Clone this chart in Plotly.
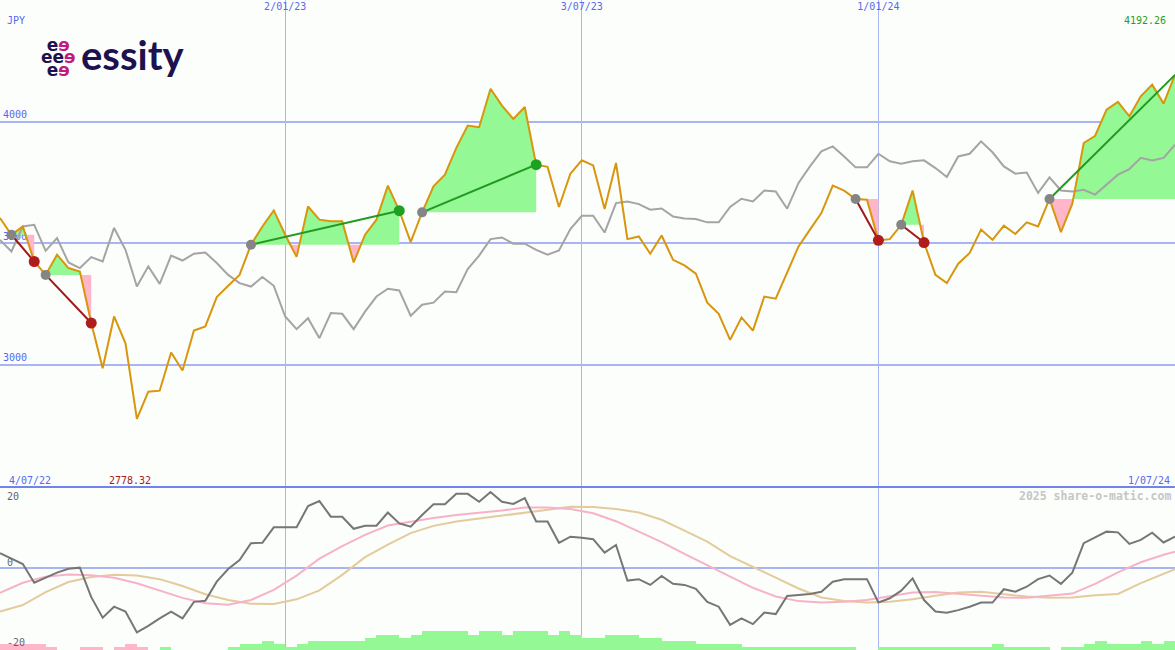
import numpy as np
import pandas as pd
import plotly.graph_objects as go

W, H = 1175, 650

# ---------------- data ----------------
start_date = "2022-07-04"
n_weeks = 104

price = [3604, 3535, 3569, 3425, 3370, 3453, 3398, 3384, 3172, 2986,
         3199, 3089, 2778.32, 2890, 2894, 3051, 2977, 3141, 3158, 3279,
         3325, 3370, 3494, 3569, 3635, 3535, 3444, 3651, 3597, 3590,
         3590, 3421, 3535, 3597, 3737, 3634, 3505, 3627, 3734, 3782,
         3892, 3984, 3977, 4135, 4066, 4011, 4060, 3823, 3814, 3649,
         3786, 3841, 3820, 3641, 3830, 3517, 3528, 3457, 3532, 3432,
         3409, 3375, 3256, 3210, 3103, 3195, 3141, 3281, 3272, 3377,
         3487, 3556, 3624, 3737, 3716, 3682, 3679, 3512, 3517, 3576,
         3717, 3503, 3370, 3336, 3416, 3460, 3556, 3514, 3572, 3538,
         3586, 3569, 3682, 3546, 3663, 3912, 3942, 4049, 4081, 4022,
         4104, 4152, 4074, 4192.26]

benchmark = [3514, 3466, 3569, 3576, 3469, 3521, 3421, 3398, 3443, 3425,
             3563, 3473, 3322, 3405, 3333, 3449, 3429, 3457, 3462, 3419,
             3370, 3336, 3322, 3361, 3325, 3199, 3147, 3192, 3110, 3213,
             3210, 3147, 3219, 3281, 3313, 3306, 3202, 3247, 3256, 3302,
             3299, 3394, 3449, 3517, 3524, 3498, 3498, 3473, 3453, 3470,
             3558, 3613, 3613, 3544, 3665, 3672, 3661, 3638, 3643, 3610,
             3602, 3600, 3586, 3586, 3649, 3683, 3672, 3717, 3713, 3642,
             3748, 3816, 3878, 3898, 3857, 3812, 3812, 3868, 3837, 3827,
             3837, 3841, 3809, 3772, 3857, 3868, 3919, 3874, 3816, 3786,
             3791, 3707, 3771, 3717, 3713, 3720, 3700, 3741, 3782, 3805,
             3851, 3840, 3851, 3905]

oscillator = [4.1, 2.6, 1.1, -4.1, -2.6, -1.3, -0.2, 0.1, -8.1, -13.8,
              -10.75, -12.1, -17.9, -16.1, -14.0, -12.1, -14.0, -9.4, -9.1, -3.8,
              -0.3, 2.2, 6.9, 7.0, 11.3, 11.3, 11.3, 17.2, 18.6, 14.25,
              14.25, 10.9, 11.75, 11.75, 15.4, 12.4, 11.5, 14.7, 17.7, 17.7,
              20.6, 20.6, 18.4, 21.1, 18.4, 17.8, 19.4, 12.9, 12.9, 7.0,
              8.7, 8.4, 8.0, 4.25, 6.4, -3.5, -3.1, -4.7, -2.2, -4.4,
              -4.7, -5.8, -9.4, -10.75, -15.8, -14.0, -15.6, -12.4, -12.8, -7.8,
              -7.5, -7.2, -6.6, -3.8, -3.1, -3.1, -3.1, -9.6, -8.4, -6.3,
              -2.9, -8.9, -12.1, -12.4, -11.7, -10.75, -9.6, -9.6, -5.9, -6.6,
              -5.2, -3.1, -2.1, -4.4, -1.3, 6.9, 8.4, 10.1, 9.9, 6.7,
              7.8, 9.8, 7.1, 8.7]

smooth_idx = list(range(0, 104, 2)) + [103]
signal_fast = [-6.9, -4.1, -2.4, -1.8, -2.0, -2.7, -4.25, -6.3, -8.3, -9.8,
               -10.2, -8.9, -6.1, -2.1, 2.6, 6.1, 9.2, 11.8, 12.9, 13.9,
               14.7, 15.3, 16.0, 16.8, 16.8, 16.4, 15.2, 13.0, 10.2, 7.2,
               3.9, 0.8, -2.2, -5.5, -7.9, -9.2, -9.6, -9.4, -8.9, -7.8,
               -6.8, -6.7, -7.2, -7.7, -8.2, -8.3, -7.75, -7.1, -4.4, -1.2,
               1.6, 3.7, 4.5]
signal_slow = [-12.1, -10.3, -6.7, -3.9, -2.5, -1.85, -2.1, -3.1, -5.0, -7.3,
               -8.9, -9.9, -10.0, -8.7, -6.2, -1.9, 3.0, 6.5, 9.7, 11.7,
               12.9, 13.7, 14.6, 15.4, 16.3, 17.0, 16.95, 16.4, 15.4, 13.4,
               10.4, 7.3, 3.3, 0.4, -2.7, -5.7, -8.2, -9.2, -9.6, -9.4,
               -8.7, -7.7, -6.8, -6.6, -7.2, -7.95, -8.3, -8.2, -7.6, -7.2,
               -4.2, -1.5, -0.3]

trend_hist = [-2, -2, -2, -2, -1, 0, 0, -1, -1, 0,
              -1, -2, -1, 0, 1, 0, 0, 0, 0, 0,
              1, 2, 2, 3, 2, 1, 2, 3, 3, 3,
              3, 3, 4, 5, 5, 4, 5, 6, 6, 6,
              6, 5, 6, 6, 5, 6, 6, 6, 5, 6,
              5, 4, 4, 5, 5, 5, 4, 4, 3, 3,
              3, 2, 2, 2, 2, 1, 1, 1, 1, 1,
              1, 1, 1, 1, 1, 0, 0, 1, 1, 1,
              1, 1, 1, 1, 1, 1, 1, 2, 1, 1,
              1, 1, 0, 1, 1, 2, 3, 2, 2, 2,
              3, 2, 3, 3]

# trades: (entry week index, exit week index)
trade_entries = [1, 4, 22, 37, 75, 79, 92]
trade_exits = [3, 8, 35, 47, 77, 81, 103]
open_trade = [False, False, False, False, False, False, True]

grid_dates = ["2022-12-26", "2023-06-26", "2023-12-25"]
grid_labels = ["2/01/23", "3/07/23", "1/01/24"]
first_label = "4/07/22"
last_label = "1/07/24"
currency = "JPY"

# ---------------- styles ----------------
BG = "#fcfefc"
GRID = "#a9b5f3"
BLUE_TXT = "#5868ee"
GREEN_FILL = "#94f894"
PINK_FILL = "#ffb6c9"
ORANGE = "#d8960c"
GRAY = "#a4a4a4"
GOOD = "#229a22"
BAD = "#a01818"
MONO = "DejaVu Sans Mono"

dates = pd.date_range(start_date, periods=n_weeks, freq="7D")
xnum = dates.values.astype("datetime64[ns]").astype("int64").astype(float)

fig = go.Figure()

# ---- trade fills ----
for e, x_ in zip(trade_entries, trade_exits):
    L = price[e]
    xs, ps = [], []
    for i in range(e, x_):
        xs.append(xnum[i]); ps.append(price[i])
        a, b = price[i] - L, price[i + 1] - L
        if a * b < 0:
            t = a / (a - b)
            xs.append(xnum[i] + t * (xnum[i + 1] - xnum[i])); ps.append(L)
    xs.append(xnum[x_]); ps.append(price[x_])
    xd = list(pd.to_datetime(np.array(xs).astype("int64")))
    up = [max(p, L) for p in ps]
    dn = [min(p, L) for p in ps]
    for ys, col in ((up, GREEN_FILL), (dn, PINK_FILL)):
        fig.add_trace(go.Scatter(
            x=xd + xd[::-1], y=ys + [L] * len(ys), fill="toself",
            fillcolor=col, line=dict(width=0), mode="lines",
            hoverinfo="skip", xaxis="x", yaxis="y"))

# ---- benchmark & price ----
fig.add_trace(go.Scatter(x=dates, y=benchmark, mode="lines",
                         line=dict(color=GRAY, width=2), xaxis="x", yaxis="y"))
fig.add_trace(go.Scatter(x=dates, y=price, mode="lines",
                         line=dict(color=ORANGE, width=2), xaxis="x", yaxis="y"))

# ---- trade lines & dots ----
for e, x_, op in zip(trade_entries, trade_exits, open_trade):
    col = GOOD if price[x_] > price[e] else BAD
    fig.add_trace(go.Scatter(x=[dates[e], dates[x_]], y=[price[e], price[x_]],
                             mode="lines", line=dict(color=col, width=2),
                             xaxis="x", yaxis="y"))
    fig.add_trace(go.Scatter(x=[dates[e]], y=[price[e]], mode="markers",
                             marker=dict(color="#858585", size=10),
                             xaxis="x", yaxis="y"))
    if not op:
        fig.add_trace(go.Scatter(x=[dates[x_]], y=[price[x_]], mode="markers",
                                 marker=dict(color=("#20a020" if col == GOOD else "#b01c1c"), size=11),
                                 xaxis="x", yaxis="y"))

# ---- lower panel ----
hist_cols = [GREEN_FILL if v > 0 else PINK_FILL for v in trend_hist]
fig.add_trace(go.Bar(x=dates, y=[abs(v) for v in trend_hist], marker=dict(color=hist_cols, line=dict(width=0)),
                     width=7 * 86400000, offset=0, xaxis="x2", yaxis="y3"))
sd = dates[smooth_idx]
fig.add_trace(go.Scatter(x=sd, y=signal_slow, mode="lines",
                         line=dict(color="#e3cb9c", width=2), xaxis="x2", yaxis="y2"))
fig.add_trace(go.Scatter(x=sd, y=signal_fast, mode="lines",
                         line=dict(color="#f8b2c8", width=2), xaxis="x2", yaxis="y2"))
fig.add_trace(go.Scatter(x=dates, y=oscillator, mode="lines",
                         line=dict(color="#767676", width=2), xaxis="x2", yaxis="y2"))

split = 163 / H
xr = [dates[0], dates[-1]]
tick_font = dict(family=MONO, size=10, color=BLUE_TXT)

fig.update_layout(
    width=W, height=H, margin=dict(l=0, r=0, t=0, b=0),
    paper_bgcolor=BG, plot_bgcolor=BG, showlegend=False, bargap=0,
    xaxis=dict(domain=[0, 1], anchor="y", range=xr, side="top",
               tickvals=pd.to_datetime(grid_dates), ticktext=grid_labels,
               ticklabelposition="inside", tickfont=tick_font, ticks="",
               showgrid=True, gridcolor=GRID, gridwidth=1, zeroline=False,
               showline=False, layer="below traces"),
    yaxis=dict(domain=[split, 1], anchor="x", range=[2498, 4500],
               tickvals=[3000, 3500, 4000], ticklabelposition="inside top",
               tickfont=tick_font, ticks="", showgrid=True, gridcolor=GRID,
               gridwidth=2, zeroline=False, showline=False, layer="below traces"),
    xaxis2=dict(domain=[0, 1], anchor="y2", range=xr, matches="x",
                tickvals=pd.to_datetime(grid_dates), showticklabels=False,
                ticks="", showgrid=True, gridcolor=GRID, gridwidth=1,
                zeroline=False, showline=False),
    yaxis2=dict(domain=[0, split], anchor="x2", range=[-22.78, 22.5],
                tickvals=[0], showticklabels=False, ticks="", showgrid=True,
                gridcolor=GRID, gridwidth=2, zeroline=False, showline=False),
    yaxis3=dict(domain=[0, split], anchor="x2", overlaying="y2",
                range=[0, 163 / 3.1], visible=False),
)

fig.add_shape(type="line", xref="paper", yref="paper", x0=0, x1=1,
              y0=split, y1=split, line=dict(color="#7483ec", width=2))


def ann(text, x, y, anchor, color, size=10, bold=False, family=MONO):
    fig.add_annotation(text=(f"<b>{text}</b>" if bold else text),
                       xref="paper", yref="paper", x=x / W, y=1 - y / H,
                       xanchor=anchor, yanchor="middle", showarrow=False,
                       font=dict(family=family, size=size, color=color))


ann(currency, 5, 20, "left", BLUE_TXT)
ann(f"{max(price):.2f}", 1168, 20, "right", "#22a022")
ann(first_label, 7, 480, "left", BLUE_TXT)
ann(f"{min(price):.2f}", 107, 480, "left", "#a02020")
ann(last_label, 1172, 480, "right", BLUE_TXT)
ann("2025 share-o-matic.com", 1173, 496, "right", "#c6c6c6", size=11.5, bold=True)
ann("20", 5, 496, "left", "#666666")
ann("0", 5, 562, "left", "#666666")
ann("-20", 5, 642, "left", "#666666")

# ---- logo ----
NAVY = "#1d1150"
MAG = "#c21a7c"
big = "font-size:17px"
e_n = f"<span style='{big}'>e</span>"
e_m = f"<span style='{big};color:{MAG}'>ɘ</span>"
cluster = "<br>".join([e_n + e_m, e_n + e_n + e_m, e_n + e_m])
ann(cluster, 58, 58, "center", NAVY, size=9.6, bold=True, family="DejaVu Sans")
ann("essity", 79, 55, "left", NAVY, size=40, bold=True, family="Lato")

fig.write_html(
    "out.html",
    config={"displayModeBar": False},
    post_script=("document.body.style.margin='0';"
                 "document.body.style.overflow='hidden';"
                 "document.documentElement.style.overflow='hidden';"),
)
